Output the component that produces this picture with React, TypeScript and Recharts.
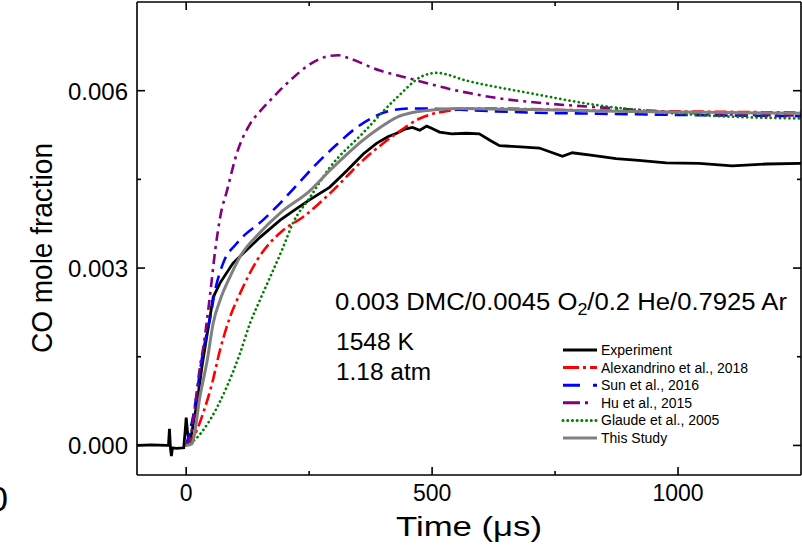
import React from 'react';
import { LineChart, Line, XAxis, YAxis } from 'recharts';

// ---------- data (time in µs, CO mole fraction) ----------
const experiment = [
  { t: -100, v: 0.0 }, { t: -70, v: 0.00001 }, { t: -40, v: 0.0 }, { t: -36, v: 0.0 },
  { t: -34, v: 0.00028 }, { t: -32, v: -0.00005 }, { t: -30, v: -0.00018 }, { t: -28, v: -0.00004 },
  { t: -20, v: -0.00005 }, { t: -5, v: -0.00004 }, { t: -2, v: 0.00025 }, { t: 0, v: 0.00047 },
  { t: 3, v: 0.0002 }, { t: 7, v: 0.00002 }, { t: 12, v: 0.00025 }, { t: 22, v: 0.00072 },
  { t: 32, v: 0.00133 }, { t: 43, v: 0.0019 }, { t: 55, v: 0.00251 }, { t: 69, v: 0.00275 },
  { t: 95, v: 0.00308 }, { t: 116, v: 0.00325 }, { t: 150, v: 0.00352 }, { t: 191, v: 0.00381 },
  { t: 220, v: 0.00398 }, { t: 250, v: 0.00415 }, { t: 292, v: 0.00437 }, { t: 327, v: 0.00465 },
  { t: 360, v: 0.00493 }, { t: 387, v: 0.00511 }, { t: 410, v: 0.00522 }, { t: 428, v: 0.00528 },
  { t: 445, v: 0.00535 }, { t: 460, v: 0.00538 }, { t: 475, v: 0.00533 }, { t: 489, v: 0.0054 },
  { t: 500, v: 0.00536 }, { t: 515, v: 0.0053 }, { t: 540, v: 0.00527 }, { t: 570, v: 0.00528 },
  { t: 596, v: 0.00527 }, { t: 620, v: 0.00515 }, { t: 637, v: 0.00507 }, { t: 680, v: 0.00505 },
  { t: 718, v: 0.00503 }, { t: 765, v: 0.00489 }, { t: 785, v: 0.00495 }, { t: 830, v: 0.0049 },
  { t: 874, v: 0.00485 }, { t: 920, v: 0.00482 }, { t: 976, v: 0.00478 }, { t: 1043, v: 0.00477 },
  { t: 1110, v: 0.00473 }, { t: 1180, v: 0.00476 }, { t: 1250, v: 0.00477 },
];

const alexandrino = [
  { t: 0, v: 0 }, { t: 18, v: 0.00019 }, { t: 35, v: 0.00056 }, { t: 53, v: 0.00106 },
  { t: 69, v: 0.00162 }, { t: 89, v: 0.00217 }, { t: 110, v: 0.00258 }, { t: 144, v: 0.00313 },
  { t: 197, v: 0.00364 }, { t: 237, v: 0.00386 }, { t: 292, v: 0.00426 }, { t: 359, v: 0.00482 },
  { t: 428, v: 0.00528 }, { t: 475, v: 0.00553 }, { t: 535, v: 0.00566 }, { t: 600, v: 0.0057 },
  { t: 800, v: 0.00567 }, { t: 1000, v: 0.00565 }, { t: 1250, v: 0.00563 },
];

const sun = [
  { t: 0, v: 0 }, { t: 14, v: 0.00049 }, { t: 35, v: 0.00162 }, { t: 49, v: 0.00217 },
  { t: 59, v: 0.00263 }, { t: 75, v: 0.00308 }, { t: 103, v: 0.00342 }, { t: 156, v: 0.00381 },
  { t: 197, v: 0.00415 }, { t: 230, v: 0.00445 }, { t: 266, v: 0.00477 }, { t: 305, v: 0.00508 },
  { t: 347, v: 0.00538 }, { t: 380, v: 0.00555 }, { t: 414, v: 0.00566 }, { t: 460, v: 0.0057 },
  { t: 520, v: 0.00569 }, { t: 600, v: 0.00566 }, { t: 700, v: 0.00563 }, { t: 840, v: 0.00561 },
  { t: 1000, v: 0.00559 }, { t: 1250, v: 0.00557 },
];

const hu = [
  { t: 0, v: 0 }, { t: 10, v: 0.0002 }, { t: 20, v: 0.0008 }, { t: 28, v: 0.00133 },
  { t: 35, v: 0.00167 }, { t: 49, v: 0.00258 }, { t: 59, v: 0.0033 }, { t: 70, v: 0.0039 },
  { t: 83, v: 0.00431 }, { t: 103, v: 0.00494 }, { t: 130, v: 0.00544 }, { t: 150, v: 0.00565 },
  { t: 170, v: 0.00583 }, { t: 211, v: 0.00617 }, { t: 252, v: 0.00645 }, { t: 292, v: 0.00659 },
  { t: 310, v: 0.0066 }, { t: 327, v: 0.00656 }, { t: 394, v: 0.00634 }, { t: 448, v: 0.00622 },
  { t: 535, v: 0.00603 }, { t: 637, v: 0.00587 }, { t: 738, v: 0.00578 }, { t: 874, v: 0.0057 },
  { t: 1008, v: 0.00563 }, { t: 1100, v: 0.0056 }, { t: 1250, v: 0.00558 },
];

const glaude = [
  { t: 0, v: 0 }, { t: 18, v: 0.0001 }, { t: 49, v: 0.00044 }, { t: 83, v: 0.001 },
  { t: 110, v: 0.00157 }, { t: 130, v: 0.00207 }, { t: 150, v: 0.00246 }, { t: 197, v: 0.00335 },
  { t: 217, v: 0.00376 }, { t: 252, v: 0.0042 }, { t: 292, v: 0.0047 }, { t: 359, v: 0.00528 },
  { t: 428, v: 0.00588 }, { t: 481, v: 0.00625 }, { t: 510, v: 0.0063 }, { t: 570, v: 0.00617 },
  { t: 704, v: 0.00595 }, { t: 840, v: 0.00575 }, { t: 976, v: 0.00563 }, { t: 1110, v: 0.00556 },
  { t: 1250, v: 0.00553 },
];

const thisStudy = [
  { t: 0, v: 0 }, { t: 12, v: 0.00003 }, { t: 28, v: 0.00083 }, { t: 43, v: 0.00145 },
  { t: 55, v: 0.00207 }, { t: 69, v: 0.00246 }, { t: 89, v: 0.00285 }, { t: 110, v: 0.0032 },
  { t: 150, v: 0.0036 }, { t: 191, v: 0.00393 }, { t: 252, v: 0.00431 }, { t: 292, v: 0.00465 },
  { t: 330, v: 0.00495 }, { t: 359, v: 0.00516 }, { t: 395, v: 0.00538 }, { t: 428, v: 0.00555 },
  { t: 460, v: 0.00563 }, { t: 495, v: 0.00567 }, { t: 550, v: 0.0057 }, { t: 700, v: 0.00568 },
  { t: 900, v: 0.00565 }, { t: 1100, v: 0.00563 }, { t: 1250, v: 0.00562 },
];

const xTicks = [0, 250, 500, 750, 1000];
const xMajor = [0, 500, 1000];
const yTicks = [0, 0.0015, 0.003, 0.0045, 0.006];
const yMajor = [0, 0.003, 0.006];

const seriesNames = [
  'Experiment',
  'Alexandrino et al., 2018',
  'Sun et al., 2016',
  'Hu et al., 2015',
  'Glaude et al., 2005',
  'This Study',
];

// ---------- styles ----------
const FONT = '"Liberation Sans", Arial, Helvetica, sans-serif';

const series = [
  { name: seriesNames[0], data: experiment, color: '#000000', dash: undefined, width: 2.8, type: 'linear', cap: 'butt' },
  { name: seriesNames[1], data: alexandrino, color: '#ff0000', dash: '12 4 3 4', width: 2.6, type: 'monotone', cap: 'butt' },
  { name: seriesNames[2], data: sun, color: '#0000ff', dash: '13 7', width: 2.6, type: 'monotone', cap: 'butt' },
  { name: seriesNames[3], data: hu, color: '#800080', dash: '10 5 3 5', width: 2.6, type: 'monotone', cap: 'butt' },
  { name: seriesNames[4], data: glaude, color: '#008000', dash: '0.1 4.6', width: 2.7, type: 'monotone', cap: 'round' },
  { name: seriesNames[5], data: thisStudy, color: '#808080', dash: undefined, width: 3, type: 'monotone', cap: 'butt' },
];

const legendDash = [undefined, '16 4 3 4', '17 13 4 10', '17 5 3 20', '0.1 4.6', undefined];

const AX = 1.6;

function BottomTick(props: any) {
  const { x, y, payload } = props;
  const major = xMajor.includes(payload.value);
  return (
    <g>
      <line x1={x} x2={x} y1={y} y2={y - (major ? 8 : 4)} stroke="#000" strokeWidth={AX} />
      {major && (
        <text x={x} y={y + 26} textAnchor="middle" fontSize={23} fontFamily={FONT} fill="#000">
          {payload.value}
        </text>
      )}
    </g>
  );
}

function TopTick(props: any) {
  const { x, y, payload } = props;
  const major = xMajor.includes(payload.value);
  return <line x1={x} x2={x} y1={y} y2={y + (major ? 8 : 4)} stroke="#000" strokeWidth={AX} />;
}

function LeftTick(props: any) {
  const { x, y, payload } = props;
  const major = yMajor.some((m) => Math.abs(m - payload.value) < 1e-9);
  return (
    <g>
      <line x1={x} x2={x + (major ? 8 : 4)} y1={y} y2={y} stroke="#000" strokeWidth={AX} />
      {major && (
        <text x={x - 9} y={y + 9} textAnchor="end" fontSize={23} fontFamily={FONT} fill="#000"
          textLength={60} lengthAdjust="spacingAndGlyphs">
          {Number(payload.value).toFixed(3)}
        </text>
      )}
    </g>
  );
}

function RightTick(props: any) {
  const { x, y, payload } = props;
  const major = yMajor.some((m) => Math.abs(m - payload.value) < 1e-9);
  return <line x1={x} x2={x - (major ? 8 : 4)} y1={y} y2={y} stroke="#000" strokeWidth={AX} />;
}

const W = 802;
const H = 555;
const legendRowY = [350, 367.6, 385.2, 402.8, 420.4, 438];

export default function App() {
  return (
    <div style={{ position: 'absolute', left: 0, top: 0, width: W, height: H, background: '#fff' }}>
      <LineChart width={W} height={H} margin={{ top: 0, right: 0, bottom: 0, left: 0 }}>
        <XAxis
          xAxisId="bottom" dataKey="t" type="number" domain={[-100, 1250]} allowDataOverflow
          ticks={xTicks} interval={0} height={80} tickSize={0} tickMargin={0} tickLine={false}
          tick={BottomTick} axisLine={{ stroke: '#000', strokeWidth: AX }}
        />
        <XAxis
          xAxisId="top" orientation="top" dataKey="t" type="number" domain={[-100, 1250]} allowDataOverflow
          ticks={xTicks} interval={0} height={2} tickSize={0} tickMargin={0} tickLine={false}
          tick={TopTick} axisLine={{ stroke: '#000', strokeWidth: AX }}
        />
        <YAxis
          yAxisId="left" type="number" domain={[-0.0005, 0.0075]} allowDataOverflow
          ticks={yTicks} interval={0} width={137} tickSize={0} tickMargin={0} tickLine={false}
          tick={LeftTick} axisLine={{ stroke: '#000', strokeWidth: AX }}
        />
        <YAxis
          yAxisId="right" orientation="right" type="number" domain={[-0.0005, 0.0075]} allowDataOverflow
          ticks={yTicks} interval={0} width={1} tickSize={0} tickMargin={0} tickLine={false}
          tick={RightTick} axisLine={{ stroke: '#000', strokeWidth: AX }}
        />
        {series.map((s) => (
          <Line
            key={s.name}
            xAxisId="bottom"
            yAxisId="left"
            data={s.data}
            dataKey="v"
            name={s.name}
            type={s.type as any}
            stroke={s.color}
            strokeWidth={s.width}
            strokeDasharray={s.dash}
            strokeLinecap={s.cap as any}
            dot={false}
            activeDot={false}
            isAnimationActive={false}
          />
        ))}
      </LineChart>

      <svg width={W} height={H} style={{ position: 'absolute', left: 0, top: 0, pointerEvents: 'none' }}
        fontFamily={FONT}>
        <text x={52} y={248} transform="rotate(-90 52 248)" textAnchor="middle" fontSize={30}
          textLength={210} lengthAdjust="spacingAndGlyphs" fill="#000">CO mole fraction</text>
        <text x={396} y={536} fontSize={28} textLength={146} lengthAdjust="spacingAndGlyphs" fill="#000">
          Time (μs)
        </text>
        <text x={8} y={511} textAnchor="end" fontSize={35} fill="#000">0</text>

        <text x={335} y={310} fontSize={23} textLength={452} lengthAdjust="spacingAndGlyphs" fill="#000">
          0.003 DMC/0.0045 O<tspan fontSize={16} dy={5}>2</tspan><tspan dy={-5}>/0.2 He/0.7925 Ar</tspan>
        </text>
        <text x={336} y={350} fontSize={23} textLength={78} lengthAdjust="spacingAndGlyphs" fill="#000">1548 K</text>
        <text x={336} y={380} fontSize={23} textLength={95} lengthAdjust="spacingAndGlyphs" fill="#000">1.18 atm</text>

        {series.map((s, i) => (
          <g key={s.name}>
            <line x1={563} x2={597} y1={legendRowY[i]} y2={legendRowY[i]} stroke={s.color} strokeWidth={3}
              strokeDasharray={legendDash[i]} strokeLinecap={s.cap as any} />
            <text x={601} y={legendRowY[i] + 5} fontSize={14} fill="#000">{s.name}</text>
          </g>
        ))}
      </svg>
    </div>
  );
}
